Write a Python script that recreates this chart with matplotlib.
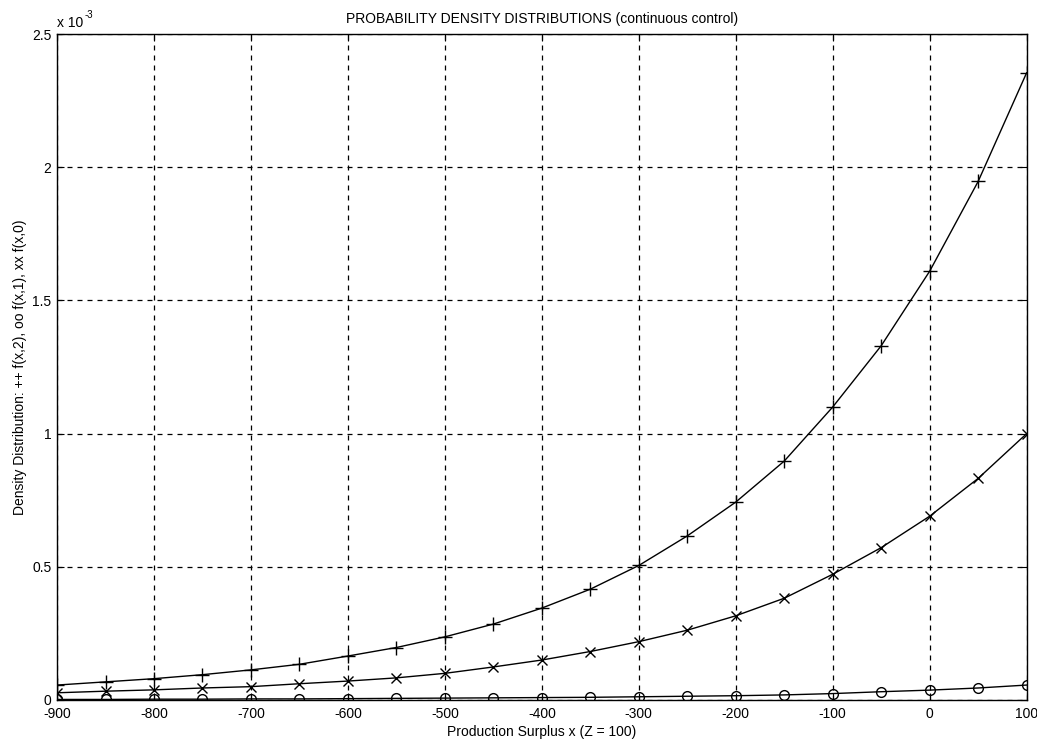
import matplotlib
matplotlib.use('Agg')
import matplotlib.pyplot as plt

# production surplus x, markers every 50
x = [-900, -850, -800, -750, -700, -650, -600, -550, -500, -450, -400,
     -350, -300, -250, -200, -150, -100, -50, 0, 50, 100]

# densities in units of 1e-3
f_x2 = [0.056, 0.068, 0.080, 0.095, 0.113, 0.134, 0.165, 0.197, 0.237, 0.285, 0.345,
        0.416, 0.505, 0.616, 0.743, 0.897, 1.10, 1.33, 1.61, 1.947, 2.355]
f_x0 = [0.027, 0.033, 0.038, 0.045, 0.050, 0.061, 0.071, 0.083, 0.100, 0.124, 0.150,
        0.182, 0.219, 0.262, 0.316, 0.382, 0.472, 0.572, 0.690, 0.832, 1.0]
f_x1 = [0.002, 0.002, 0.003, 0.003, 0.004, 0.004, 0.005, 0.006, 0.007, 0.008, 0.009,
        0.010, 0.012, 0.014, 0.016, 0.019, 0.024, 0.031, 0.037, 0.045, 0.056]

xticks = list(range(-900, 101, 100))
yticks = [0, 0.5, 1, 1.5, 2, 2.5]
ytick_labels = ['0', '0.5', '1', '1.5', '2', '2.5']

plt.rcParams['font.family'] = ['Liberation Sans', 'DejaVu Sans']
plt.rcParams['axes.unicode_minus'] = False

fig = plt.figure(figsize=(10.37, 7.46), dpi=100)
ax = fig.add_axes([0.055, 0.0617, 0.935, 0.8925])

ax.plot(x, f_x2, color='black', linewidth=1, marker='+', markersize=10, markeredgewidth=1)
ax.plot(x, f_x0, color='black', linewidth=1, marker='x', markersize=7, markeredgewidth=1)
ax.plot(x, f_x1, color='black', linewidth=1, marker='o', markersize=7,
        markerfacecolor='none', markeredgewidth=1)

ax.set_xlim(-900, 100)
ax.set_ylim(0, 2.5)
ax.set_xticks(xticks)
ax.set_yticks(yticks)
ax.set_yticklabels(ytick_labels)
ax.tick_params(direction='in', top=True, right=True, labelsize=10, length=5)
ax.tick_params(axis='y', pad=4)
ax.tick_params(axis='x', pad=5)
ax.grid(True, color='black', linestyle=(0, (4, 4)), linewidth=0.9)
for s in ax.spines.values():
    s.set_linewidth(1)

ax.set_title('PROBABILITY DENSITY DISTRIBUTIONS (continuous control)', fontsize=10, pad=8)
ax.set_xlabel('Production Surplus x (Z = 100)', fontsize=10, labelpad=3)
ax.set_ylabel('Density Distribution: ++ f(x,2), oo f(x,1), xx f(x,0)', fontsize=10, labelpad=4)
# offset text "x 10^-3"
ax.text(0.0, 1.006, 'x 10', transform=ax.transAxes, fontsize=10, ha='left', va='bottom')
ax.text(0.0285, 1.021, '-3', transform=ax.transAxes, fontsize=7, ha='left', va='bottom')

fig.savefig('out.png', dpi=100)
